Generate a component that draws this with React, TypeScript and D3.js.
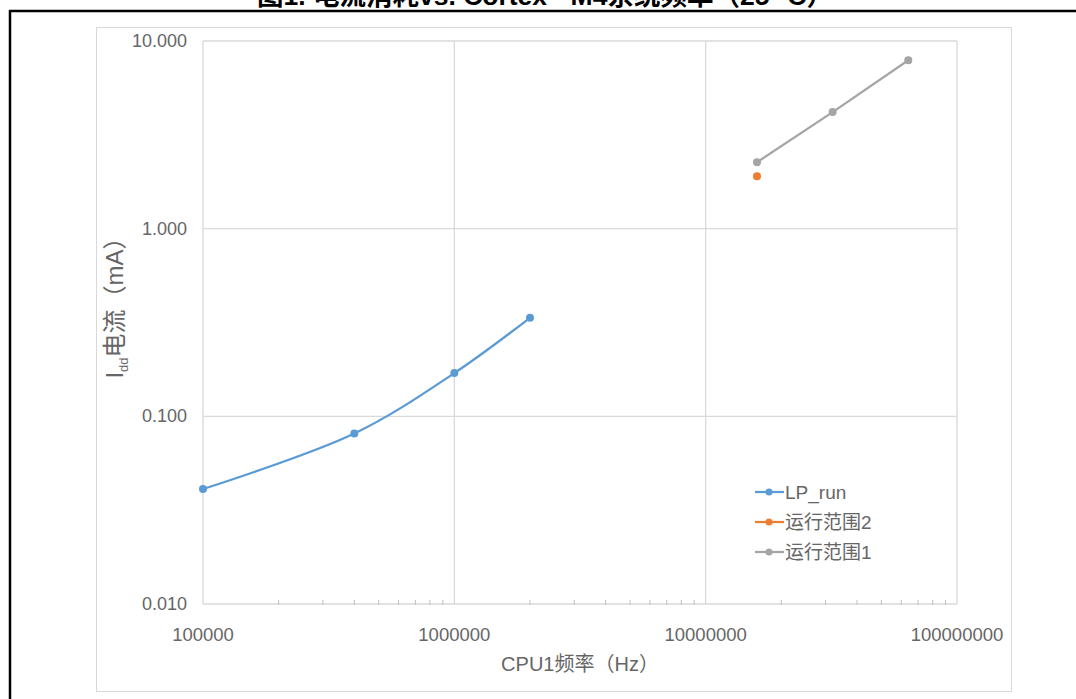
import React from 'react';
import * as d3 from 'd3';

const lpFreq = [100000, 400000, 1000000, 2000000];
const lpCurrent = [0.041, 0.081, 0.17, 0.335];
const range2Freq = [16000000];
const range2Current = [1.9];
const range1Freq = [16000000, 32000000, 64000000];
const range1Current = [2.26, 4.18, 7.9];

const xTicks = [100000, 1000000, 10000000, 100000000];
const yTicks = [0.01, 0.1, 1, 10];

const seriesNames = ['LP_run', '运行范围2', '运行范围1'];
const colors = ['#5B9BD5', '#ED7D31', '#A5A5A5'];

const W = 1076;
const H = 699;
const plot = {left: 203, top: 41, right: 957, bottom: 604};
const font = '"Liberation Sans", Arial, "Noto Sans CJK SC", sans-serif';

const App = () => {
    const x = d3.scaleLog().domain([1e5, 1e8]).range([plot.left, plot.right]);
    const y = d3.scaleLog().domain([0.01, 10]).range([plot.bottom, plot.top]);

    const series = [
        {name: seriesNames[0], color: colors[0], pts: lpFreq.map((f, i) => [f, lpCurrent[i]]), smooth: true},
        {name: seriesNames[1], color: colors[1], pts: range2Freq.map((f, i) => [f, range2Current[i]]), smooth: false},
        {name: seriesNames[2], color: colors[2], pts: range1Freq.map((f, i) => [f, range1Current[i]]), smooth: false},
    ];

    // minor ticks 2..9 in every decade
    const minorTicks: number[] = [];
    for (let e = 5; e < 8; e++) {
        for (let k = 2; k < 10; k++) minorTicks.push(k * Math.pow(10, e));
    }

    const line = (smooth: boolean) => d3.line<number[]>()
        .x((d) => x(d[0]))
        .y((d) => y(d[1]))
        .curve(smooth ? d3.curveCatmullRom.alpha(0.5) : d3.curveLinear);

    const fmtY = d3.format('.3f');
    const legendX = 755;
    const legendY = [492, 522, 552];

    return (
        <svg width={W} height={H} style={{position: 'absolute', left: 0, top: 0}} fontFamily={font}>
            <rect width={W} height={H} fill='#fff' />
            <text x={545} y={5} textAnchor='middle' fontSize={26.5} fontWeight='bold' fill='#000'>
                图1. 电流消耗vs. Cortex - M4系统频率（25 °C）
            </text>
            <line x1={9} x2={W} y1={11} y2={11} stroke='#000' strokeWidth={2.5} />
            <line x1={10} x2={10} y1={10} y2={H} stroke='#000' strokeWidth={2.5} />
            <rect x={96.5} y={27.5} width={915} height={664} fill='#fff' stroke='#d9d9d9' />

            {yTicks.map((t) => (
                <line key={'gy' + t} x1={plot.left} x2={plot.right} y1={y(t)} y2={y(t)} stroke='#d9d9d9' strokeWidth={1.3} />
            ))}
            {xTicks.map((t) => (
                <line key={'gx' + t} x1={x(t)} x2={x(t)} y1={plot.top} y2={plot.bottom} stroke='#d9d9d9' strokeWidth={1.3} />
            ))}
            {minorTicks.map((t) => (
                <line key={'mx' + t} x1={x(t)} x2={x(t)} y1={plot.bottom - 4} y2={plot.bottom + 1} stroke='#bfbfbf' />
            ))}

            {yTicks.map((t) => (
                <text key={'ly' + t} x={187} y={y(t) + 6} textAnchor='end' fontSize={18} fill='#666'>{fmtY(t)}</text>
            ))}
            {xTicks.map((t) => (
                <text key={'lx' + t} x={x(t)} y={641} textAnchor='middle' fontSize={18.5} fill='#666'>{t}</text>
            ))}

            <text x={580} y={671} textAnchor='middle' fontSize={20} fill='#666'>CPU1频率（Hz）</text>
            <text transform='translate(123,302) rotate(-90)' textAnchor='middle' fontSize={24} fill='#666'>
                I<tspan fontSize={13} dy={5}>dd</tspan><tspan dy={-5}>电流（mA）</tspan>
            </text>

            {series.map((s) => (
                <g key={s.name}>
                    {s.pts.length > 1 && (
                        <path d={line(s.smooth)(s.pts) || ''} fill='none' stroke={s.color} strokeWidth={2.25} strokeLinejoin='round' />
                    )}
                    {s.pts.map((p, i) => (
                        <circle key={i} cx={x(p[0])} cy={y(p[1])} r={4} fill={s.color} />
                    ))}
                </g>
            ))}

            {series.map((s, i) => (
                <g key={'lg' + s.name}>
                    <line x1={legendX} x2={legendX + 29} y1={legendY[i]} y2={legendY[i]} stroke={s.color} strokeWidth={2.25} />
                    <circle cx={legendX + 14} cy={legendY[i]} r={3.5} fill={s.color} />
                    <text x={legendX + 30} y={legendY[i] + 7} fontSize={19} fill='#666'>{s.name}</text>
                </g>
            ))}
        </svg>
    );
};

export default App;
